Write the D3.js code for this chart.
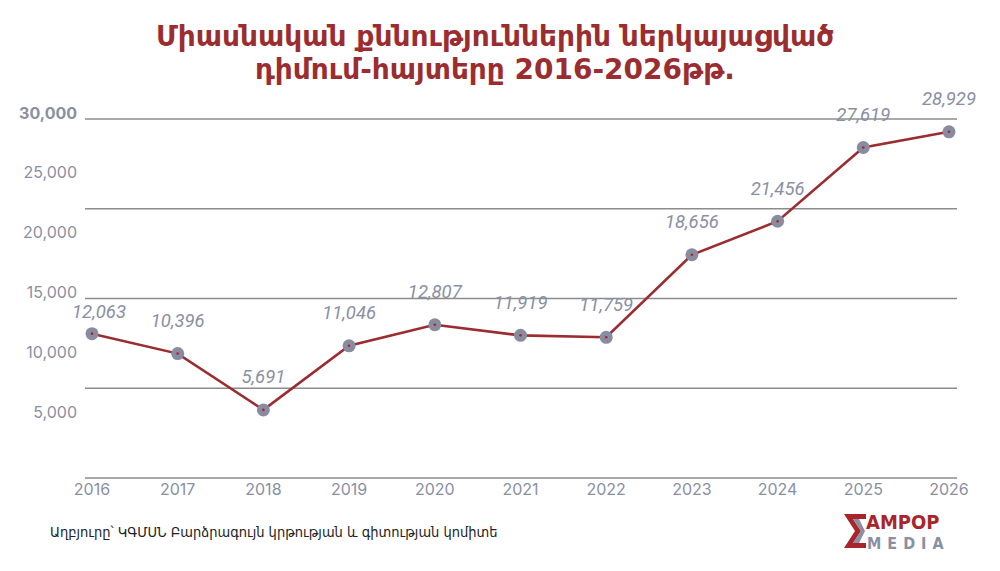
<!DOCTYPE html>
<html lang="hy">
<head>
<meta charset="UTF-8">
<title>Dimum-hayter 2016-2026</title>
<script src="https://d3js.org/d3.v7.min.js"></script>
<style>
  body { margin: 0; background: #fff; }
  svg { display: block; }
  .title { font-family: "DejaVu Sans", sans-serif; font-weight: bold; font-size: 28px; fill: #9b2d30; }
  .ytick { font-family: Inter, "Noto Sans", sans-serif; font-size: 16px; fill: #8a8fa3; }
  .xtick { font-family: Inter, "Noto Sans", sans-serif; font-size: 16px; fill: #8a8fa3; }
  .vlabel { font-family: Roboto, sans-serif; font-style: italic; font-weight: 400; font-size: 18.5px; fill: #8a8fa3; }
  .grid { stroke: #8c8c8c; stroke-width: 1.3; }
  .source { font-family: "DejaVu Sans Condensed", "DejaVu Sans", sans-serif; font-size: 14.5px; fill: #222; }
  .logo { font-family: "Liberation Sans Narrow", "DejaVu Sans Condensed", sans-serif; font-weight: bold; }
</style>
</head>
<body>
<svg width="1000" height="571"></svg>
<script>
  const years = [2016, 2017, 2018, 2019, 2020, 2021, 2022, 2023, 2024, 2025, 2026];
  const applications = [12063, 10396, 5691, 11046, 12807, 11919, 11759, 18656, 21456, 27619, 28929];
  const yTickValues = [5000, 10000, 15000, 20000, 25000, 30000];
  const gridValues = [0, 7500, 15000, 22500, 30000];
  const titleLines = ["Միասնական քննություններին ներկայացված", "դիմում-հայտերը 2016-2026թթ."];
  const sourceText = "Աղբյուրը՝ ԿԳՄՍՆ Բարձրագույն կրթության և գիտության կոմիտե";

  const svg = d3.select("svg");
  const x = d3.scaleLinear().domain([2016, 2026]).range([92, 949]);
  const y = d3.scaleLinear().domain([0, 30000]).range([478, 119]);
  const fmt = d3.format(",");

  // title
  svg.append("g").selectAll("text")
    .data(titleLines)
    .enter().append("text")
    .attr("class", "title")
    .attr("x", 495)
    .attr("y", (d, i) => 46 + i * 33)
    .attr("text-anchor", "middle")
    .text(d => d);

  // gridlines (every 7500)
  svg.append("g").selectAll("line")
    .data(gridValues)
    .enter().append("line")
    .attr("class", "grid")
    .attr("x1", 85).attr("x2", 957)
    .attr("y1", d => y(d)).attr("y2", d => y(d));

  // y tick labels (every 5000)
  svg.append("g").selectAll("text")
    .data(yTickValues)
    .enter().append("text")
    .attr("class", "ytick")
    .attr("x", 77)
    .attr("y", d => y(d) - 6)
    .attr("dy", "0.35em")
    .attr("text-anchor", "end")
    .style("font-weight", d => d === 30000 ? "bold" : null)
    .text(d => fmt(d));

  // x tick labels
  svg.append("g").selectAll("text")
    .data(years)
    .enter().append("text")
    .attr("class", "xtick")
    .attr("x", d => x(d))
    .attr("y", 489)
    .attr("dy", "0.35em")
    .attr("text-anchor", "middle")
    .text(d => d);

  const pts = years.map((yr, i) => ({ year: yr, value: applications[i] }));

  const line = d3.line().x(d => x(d.year)).y(d => y(d.value));
  svg.append("path")
    .datum(pts)
    .attr("d", line)
    .attr("fill", "none")
    .attr("stroke", "#9b2d30")
    .attr("stroke-width", 2.6);

  const marks = svg.append("g").selectAll("g")
    .data(pts)
    .enter().append("g")
    .attr("transform", d => `translate(${x(d.year)},${y(d.value)})`);
  marks.append("circle").attr("r", 6.5).attr("fill", "#878ca0");
  marks.append("circle").attr("r", 1.3).attr("fill", "#b0232a");

  // value labels; the first one sits lower and a bit right so it clears the 15,000 tick
  svg.append("g").selectAll("text")
    .data(pts)
    .enter().append("text")
    .attr("class", "vlabel")
    .attr("x", (d, i) => x(d.year) + (i === 0 ? 7 : 0))
    .attr("y", (d, i) => y(d.value) - (i === 0 ? 22 : 33))
    .attr("dy", "0.35em")
    .attr("text-anchor", "middle")
    .text(d => fmt(d.value));

  // source
  svg.append("text")
    .attr("class", "source")
    .attr("x", 50)
    .attr("y", 537)
    .text(sourceText);

  // logo
  const logo = svg.append("g").attr("transform", "translate(844,514)");
  logo.append("path")
    .attr("d", "M0,0 H22 V5 H9 L17,17 L9,29 H22 V34 H0 L11,17 Z")
    .attr("fill", "#a8262b");
  logo.append("path")
    .attr("d", "M9,5 L15,5 L21,17 L15,29 L9,29 L17,17 Z")
    .attr("fill", "#8a8fa3");
  logo.append("text")
    .attr("class", "logo")
    .attr("x", 22).attr("y", 15)
    .attr("font-size", 20)
    .attr("fill", "#a8262b")
    .text("AMPOP");
  logo.append("text")
    .attr("class", "logo")
    .attr("x", 23).attr("y", 35)
    .attr("font-size", 16)
    .attr("letter-spacing", 6)
    .attr("fill", "#8a8fa3")
    .text("MEDIA");
</script>
</body>
</html>
